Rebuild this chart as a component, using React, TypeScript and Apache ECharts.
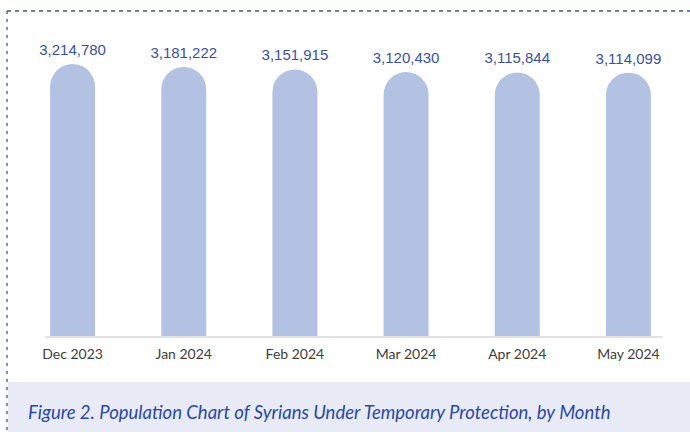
import React, { useEffect, useRef } from "react";
import * as echarts from "echarts";

const categories = ["Dec 2023", "Jan 2024", "Feb 2024", "Mar 2024", "Apr 2024", "May 2024"];
const population = [3214780, 3181222, 3151915, 3120430, 3115844, 3114099];
const captionText = "Figure 2. Population Chart of Syrians Under Temporary Protection, by Month";

export default function App() {
  const ref = useRef<HTMLDivElement>(null);
  useEffect(() => {
    document.body.style.margin = "0";
    const chart = echarts.init(ref.current!, null, { renderer: "svg" });
    chart.setOption({
      animation: false,
      grid: { left: 17, right: 6, top: 40, bottom: 96 },
      xAxis: {
        type: "category",
        data: categories,
        axisLine: { show: false },
        axisTick: { show: false },
        axisLabel: {
          color: "#404040",
          fontSize: 14,
          fontFamily: "Lato",
          margin: 10,
        },
      },
      yAxis: { type: "value", min: 0, max: 3500000, show: false, splitLine: { show: false } },
      series: [
        {
          type: "bar",
          data: population,
          barWidth: 45,
          itemStyle: { color: "#b3c2e3", borderRadius: [22.5, 22.5, 0, 0] },
          label: {
            show: true,
            position: "top",
            distance: 7,
            color: "#3a51a3",
            fontSize: 15,
            fontFamily: "Liberation Sans",
            formatter: (p: any) => Number(p.value).toLocaleString("en-US"),
          },
        },
      ],
      graphic: [
        {
          type: "rect",
          shape: { x: 8, y: 382, width: 682, height: 50 },
          style: { fill: "#e8eaf6" },
          silent: true,
        },
        {
          type: "line",
          shape: { x1: 45, y1: 337, x2: 662, y2: 337 },
          style: { stroke: "#d9d9d9", lineWidth: 1.5 },
          silent: true,
        },
        {
          type: "line",
          shape: { x1: 7, y1: 11, x2: 690, y2: 11 },
          style: { stroke: "#3d5191", lineWidth: 1.3, lineDash: [4, 4] },
          silent: true,
        },
        {
          type: "line",
          shape: { x1: 7, y1: 11, x2: 7, y2: 432 },
          style: { stroke: "#3d5191", lineWidth: 1.3, lineDash: [3, 5] },
          silent: true,
        },
        {
          type: "text",
          x: 28,
          y: 412,
          style: {
            text: captionText,
            fill: "#2b48a8",
            font: "italic 18.5px Lato",
            verticalAlign: "middle",
            align: "left",
          },
          silent: true,
        },
      ],
    });
    return () => chart.dispose();
  }, []);
  return <div ref={ref} style={{ width: 690, height: 432 }} />;
}
